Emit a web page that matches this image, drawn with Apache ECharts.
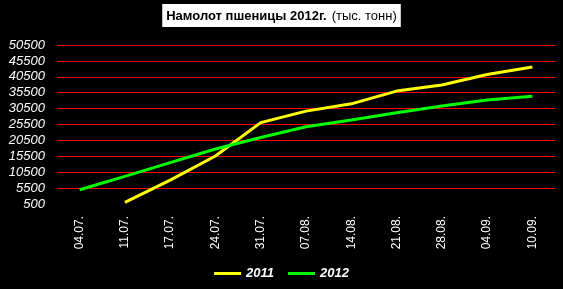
<!DOCTYPE html>
<html><head><meta charset="utf-8">
<script src="https://cdn.jsdelivr.net/npm/echarts@6/dist/echarts.min.js"></script>
<style>html,body{margin:0;padding:0;background:#000;}#c{width:563px;height:289px;}</style>
</head><body><div id="c"></div>
<script>
const categories = ['04.07.','11.07.','17.07.','24.07.','31.07.','07.08.','14.08.','21.08.','28.08.','04.09.','10.09.'];
const series2011 = [null, 1000, 8000, 15600, 26100, 29700, 32000, 36000, 37900, 41200, 43600];
const series2012 = [5000, 9200, 13500, 17800, 21400, 24800, 26900, 29200, 31300, 33200, 34400];
const yTicks = {min: 500, max: 50500, interval: 5000};

const chart = echarts.init(document.getElementById('c'));
chart.setOption({
  backgroundColor: '#000',
  animation: false,
  title: {
    text: '{b|Намолот пшеницы 2012г.} {n|(тыс. тонн)}',
    left: 'center', top: 4,
    backgroundColor: '#fff', padding: [3, 4, 2, 4],
    textStyle: {
      rich: {
        b: {fontFamily: 'Liberation Sans', fontWeight: 'bold', fontSize: 13, color: '#000'},
        n: {fontFamily: 'Liberation Sans', fontWeight: 'normal', fontSize: 13, color: '#000'}
      }
    }
  },
  legend: {
    bottom: 4, left: 'center',
    icon: 'rect', itemWidth: 27, itemHeight: 3, itemGap: 14,
    textStyle: {color: '#fff', fontStyle: 'italic', fontWeight: 'bold', fontSize: 13, fontFamily: 'Liberation Sans'},
    data: ['2011', '2012']
  },
  grid: {left: 57, right: 8, top: 45, bottom: 85},
  xAxis: {
    type: 'category', data: categories, boundaryGap: true,
    axisLine: {show: false}, axisTick: {show: false},
    axisLabel: {color: '#fff', rotate: 90, margin: 12, fontSize: 12, fontFamily: 'Liberation Sans', interval: 0}
  },
  yAxis: {
    type: 'value', min: yTicks.min, max: yTicks.max, interval: yTicks.interval,
    axisLine: {show: false}, axisTick: {show: false},
    axisLabel: {color: '#fff', fontStyle: 'italic', fontSize: 13, fontFamily: 'Liberation Sans', margin: 12,
      formatter: v => String(v)},
    splitLine: {show: true, showMinLine: false, lineStyle: {color: '#ff0000', width: 1}}
  },
  series: [
    {name: '2011', type: 'line', data: series2011, showSymbol: false, symbol: 'none',
     lineStyle: {color: '#ffff00', width: 3}, itemStyle: {color: '#ffff00'}},
    {name: '2012', type: 'line', data: series2012, showSymbol: false, symbol: 'none',
     lineStyle: {color: '#00ff00', width: 3}, itemStyle: {color: '#00ff00'}}
  ]
});
</script></body></html>
